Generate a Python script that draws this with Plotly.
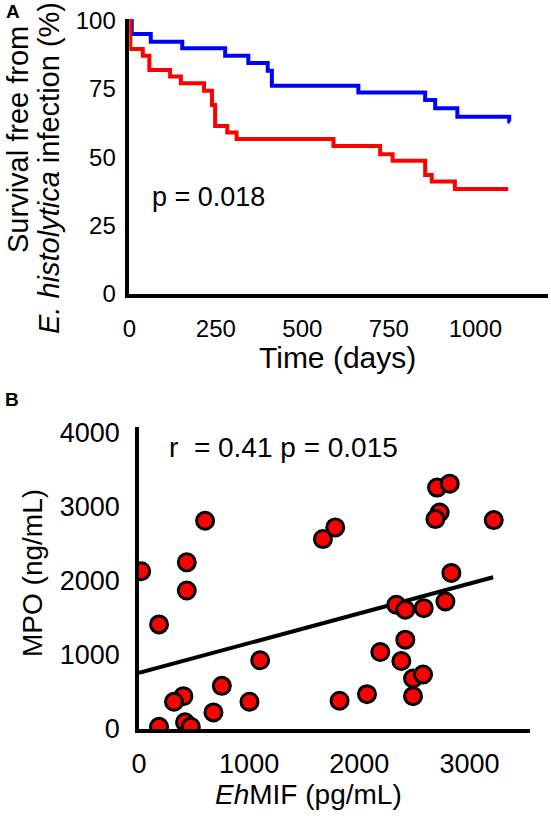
import plotly.graph_objects as go

# ---- Panel A: Kaplan-Meier style survival curves ----
blue_days = [0, 7, 62, 153, 277, 344, 400, 412, 662, 855, 884, 948, 1098, 1100]
blue_surv = [100, 95.0, 92.2, 89.8, 87.1, 84.4, 81.6, 76.1, 73.6, 70.9, 67.9, 64.8, 63.0, 63.0]
red_days = [0, 3, 39, 58, 118, 149, 216, 239, 248, 283, 310, 590, 725, 761, 855, 874, 941, 1095]
red_surv = [100, 89.5, 87.1, 81.9, 79.5, 77.0, 74.3, 69.1, 61.4, 59.0, 56.6, 54.1, 51.1, 48.7, 43.5, 41.1, 38.4, 38.4]
a_xticks = [0, 250, 500, 750, 1000]
a_yticks = [0, 25, 50, 75, 100]

# ---- Panel B: EhMIF vs MPO scatter ----
ehmif = [20, 600, 434, 434, 182, 1100, 752, 403, 318, 1003, 676, 182, 418, 470,
         1670, 1782, 2706, 2821, 2730, 2691, 3221, 2836, 2782, 2336, 2418, 2585,
         2418, 2191, 2382, 2488, 2579, 2488, 2070, 1821]
mpo = [2131, 2813, 2252, 1871, 1413, 929, 583, 444, 368, 368, 224, 31, 90, 31,
       2566, 2723, 3261, 3315, 2925, 2836, 2822, 2109, 1723, 1678, 1611, 1633,
       1207, 1040, 919, 682, 736, 444, 471, 381]
fit_x = [0, 3215]
fit_y = [758, 2050]
b_xticks = [0, 1000, 2000, 3000]
b_yticks = [0, 1000, 2000, 3000, 4000]

FONT = "Liberation Sans, Arial, sans-serif"
W, H = 551, 816

def px(x):
    return x / W

def py(y):
    return 1 - y / H

fig = go.Figure()

fig.add_trace(go.Scatter(x=blue_days, y=blue_surv, mode="lines", line_shape="hv",
                         line=dict(color="#0000FF", width=4), xaxis="x", yaxis="y",
                         showlegend=False))
fig.add_trace(go.Scatter(x=red_days, y=red_surv, mode="lines", line_shape="hv",
                         line=dict(color="#FF0000", width=4), xaxis="x", yaxis="y",
                         showlegend=False))

fig.add_trace(go.Scatter(x=fit_x, y=fit_y, mode="lines",
                         line=dict(color="black", width=4), xaxis="x2", yaxis="y2",
                         showlegend=False))
fig.add_trace(go.Scatter(x=ehmif, y=mpo, mode="markers",
                         marker=dict(color="#FF0000", size=17, line=dict(color="black", width=3)),
                         xaxis="x2", yaxis="y2", showlegend=False))

def axis(size, **kw):
    d = dict(showline=True, linecolor="black", linewidth=3.5, ticks="",
             showgrid=False, zeroline=False, automargin=False,
             tickfont=dict(family=FONT, size=size, color="black"))
    d.update(kw)
    return d

fig.update_layout(
    width=W, height=H, margin=dict(l=0, r=0, t=0, b=0, autoexpand=False),
    paper_bgcolor="white", plot_bgcolor="white",
    xaxis=axis(24, domain=[px(129.3), px(548)], range=[0, 1210], tickvals=a_xticks,
               anchor="y", ticklabelstandoff=10),
    yaxis=axis(24, domain=[py(294), py(19)], range=[0, 100.5], tickvals=a_yticks,
               anchor="x", ticklabelstandoff=5),
    xaxis2=axis(27, domain=[px(139), px(530)], range=[0, 3550], tickvals=b_xticks,
                anchor="y2", ticklabelstandoff=8),
    yaxis2=axis(27, domain=[py(729), py(427)], range=[0, 4080], tickvals=b_yticks,
                anchor="x2", ticklabelstandoff=10),
)

def ann(text, x, y, size, angle=0, bold=False):
    fig.add_annotation(text=("<b>%s</b>" % text) if bold else text,
                       x=px(x), y=py(y), xref="paper", yref="paper",
                       showarrow=False, textangle=angle, xanchor="center", yanchor="middle",
                       font=dict(family=FONT, size=size, color="black"))

ann("A", 13, 12, 19, bold=True)
ann("B", 12, 399, 19, bold=True)
ann("Survival free from", 18, 140, 29, angle=-90)
ann("<i>E. histolytica</i> infection (%)", 49, 168, 29, angle=-90)
ann("Time (days)", 337, 357, 30)
ann("p = 0.018", 208, 197, 27)
ann("r\u00a0 = 0.41 p = 0.015", 283, 447, 28)
ann("MPO (ng/mL)", 32, 573, 28, angle=-90)
ann("<i>Eh</i>MIF (pg/mL)", 308, 794, 28)

fig.write_html("out.html", config={"displayModeBar": False},
               post_script="document.body.style.margin='0';document.body.style.overflow='hidden';")
